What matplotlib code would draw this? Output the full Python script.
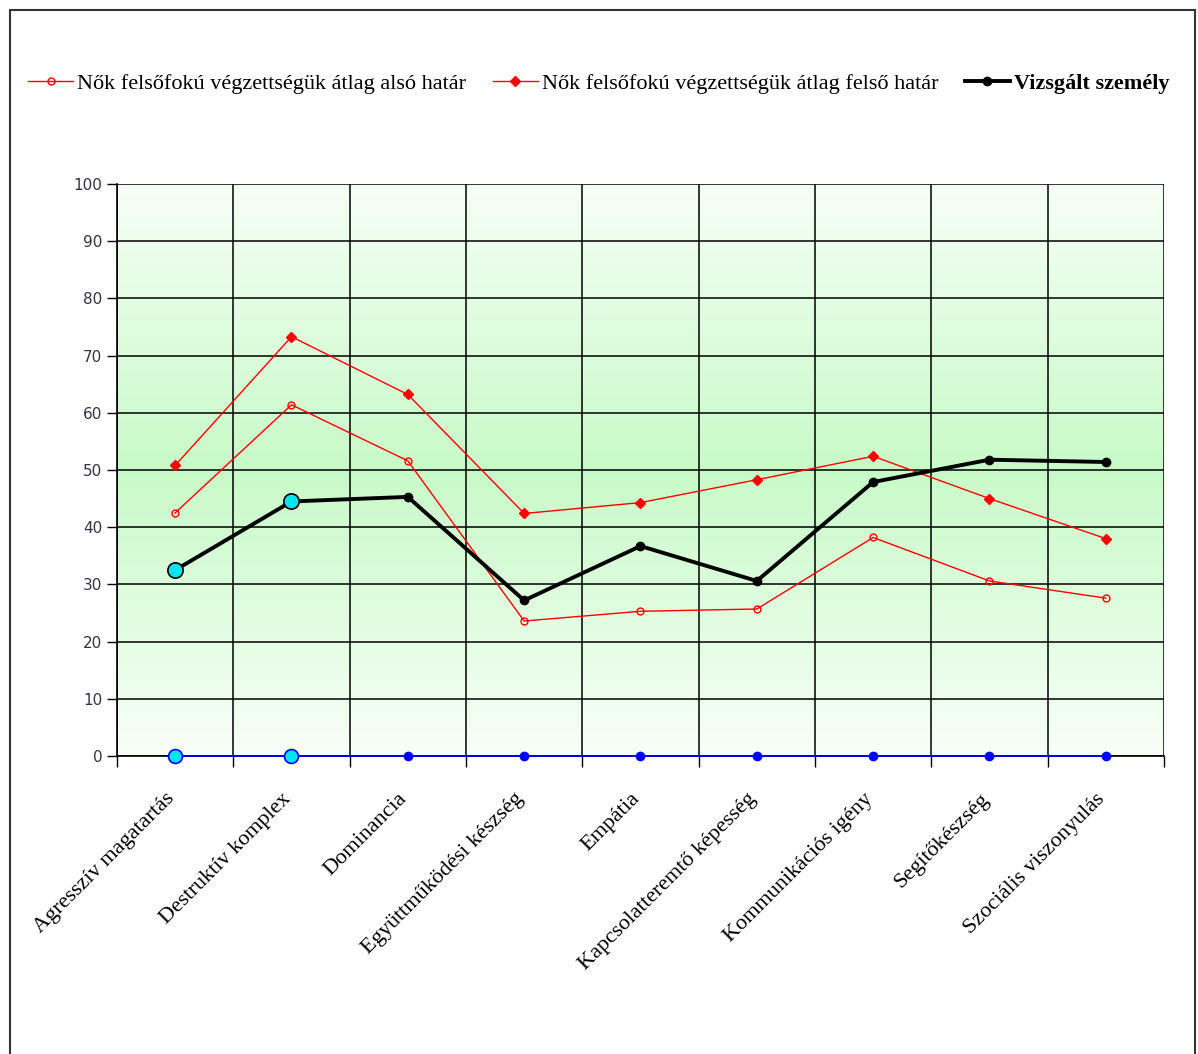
import numpy as np
import matplotlib.pyplot as plt
from matplotlib.colors import LinearSegmentedColormap
from matplotlib.transforms import ScaledTranslation
from matplotlib.patches import Rectangle

categories = ['Agresszív magatartás', 'Destruktív komplex', 'Dominancia',
              'Együttműködési készség', 'Empátia', 'Kapcsolatteremtő képesség',
              'Kommunikációs igény', 'Segítőkészség', 'Szociális viszonyulás']
also_hatar = [42.5, 61.4, 51.6, 23.6, 25.3, 25.7, 38.2, 30.6, 27.6]
felso_hatar = [50.8, 73.3, 63.2, 42.4, 44.3, 48.3, 52.4, 45.0, 38.0]
vizsgalt = [32.5, 44.5, 45.3, 27.2, 36.7, 30.6, 47.9, 51.8, 51.4]
also_zero = [0, 0, 0, 0, 0, 0, 0, 0, 0]
kiemelt = [0, 1]   # highlighted (cyan) points

plt.rcParams['font.family'] = ['Liberation Serif', 'DejaVu Serif']

fig = plt.figure(figsize=(11.98, 10.54), dpi=100)
ax = fig.add_axes([117/1198, 1 - 756/1054, 1047/1198, 572/1054])

x = np.arange(len(categories))

# background gradient: white at top/bottom, light green in middle
cmap = LinearSegmentedColormap.from_list('g', ['#f6fff6', '#c8fac8', '#f8fff8'])
grad = np.linspace(0, 1, 256).reshape(-1, 1)
ax.imshow(grad, cmap=cmap, aspect='auto', extent=(-0.5, 8.5, 0, 100),
          origin='upper', zorder=0)

ax.set_xlim(-0.5, 8.5)
ax.set_ylim(0, 100)

ax.plot(x, also_hatar, color='red', lw=1.0, marker='o', ms=5,
        mfc='none', mec='red', mew=1.0, zorder=4,
        label='Nők felsőfokú végzettségük átlag alsó határ')
ax.plot(x, felso_hatar, color='red', lw=1.0, marker='D', ms=5,
        mfc='red', mec='red', zorder=4,
        label='Nők felsőfokú végzettségük átlag felső határ')
ax.plot(x, vizsgalt, color='black', lw=2.8, marker='o', ms=6,
        mfc='black', mec='black', zorder=5, label='Vizsgált személy')
ax.plot(x[kiemelt], np.array(vizsgalt)[kiemelt], ls='none', marker='o', ms=11,
        mfc='#00e5ee', mec='black', mew=1.2, zorder=6)

ax.plot(x, also_zero, color='blue', lw=1.2, marker='o', ms=6,
        mfc='blue', mec='blue', zorder=5, clip_on=False)
ax.plot(x[kiemelt], np.array(also_zero)[kiemelt], ls='none', marker='o', ms=10,
        mfc='#00e5ee', mec='blue', mew=1.2, zorder=6, clip_on=False)

# grid
ax.set_yticks(np.arange(0, 101, 10))
ax.set_xticks(np.arange(-0.5, 9, 1))
ax.set_xticklabels([])
ax.set_xticks(x, minor=True)
ax.set_xticklabels(categories, minor=True, rotation=45, ha='right',
                   rotation_mode='anchor', fontsize=16)
ax.tick_params(axis='x', which='minor', length=0, pad=24)
ax.tick_params(axis='x', which='major', length=8, direction='out', width=1)
ax.tick_params(axis='y', length=7, direction='out', width=1, labelsize=11,
               labelcolor='#333344')
for lab in ax.get_yticklabels():
    lab.set_family('DejaVu Sans')
for lab in ax.get_xticklabels(minor=True):
    lab.set_transform(lab.get_transform() +
                      ScaledTranslation(-10/100, 0, fig.dpi_scale_trans))
ax.grid(True, which='major', color='black', lw=1.1, zorder=1)
ax.set_axisbelow(False)
for s in ['top', 'right']:
    ax.spines[s].set_visible(False)
ax.spines['left'].set_linewidth(1.2)
ax.spines['bottom'].set_linewidth(1.2)

# legend
h, l = ax.get_legend_handles_labels()
leg = fig.legend(h[:3], l[:3], loc='center', ncol=3, frameon=False,
                 bbox_to_anchor=(0.5, 1 - 84/1054), fontsize=16,
                 handlelength=2.0, handletextpad=0.2, columnspacing=1.2)
leg.get_texts()[2].set_fontweight('bold')

# outer frame
fig.patches.append(Rectangle((10/1198, -0.05), 1185/1198, 1.05 - 10/1054,
                             transform=fig.transFigure, fill=False,
                             ec='#333333', lw=1.5))

plt.savefig('out.png', dpi=100)
